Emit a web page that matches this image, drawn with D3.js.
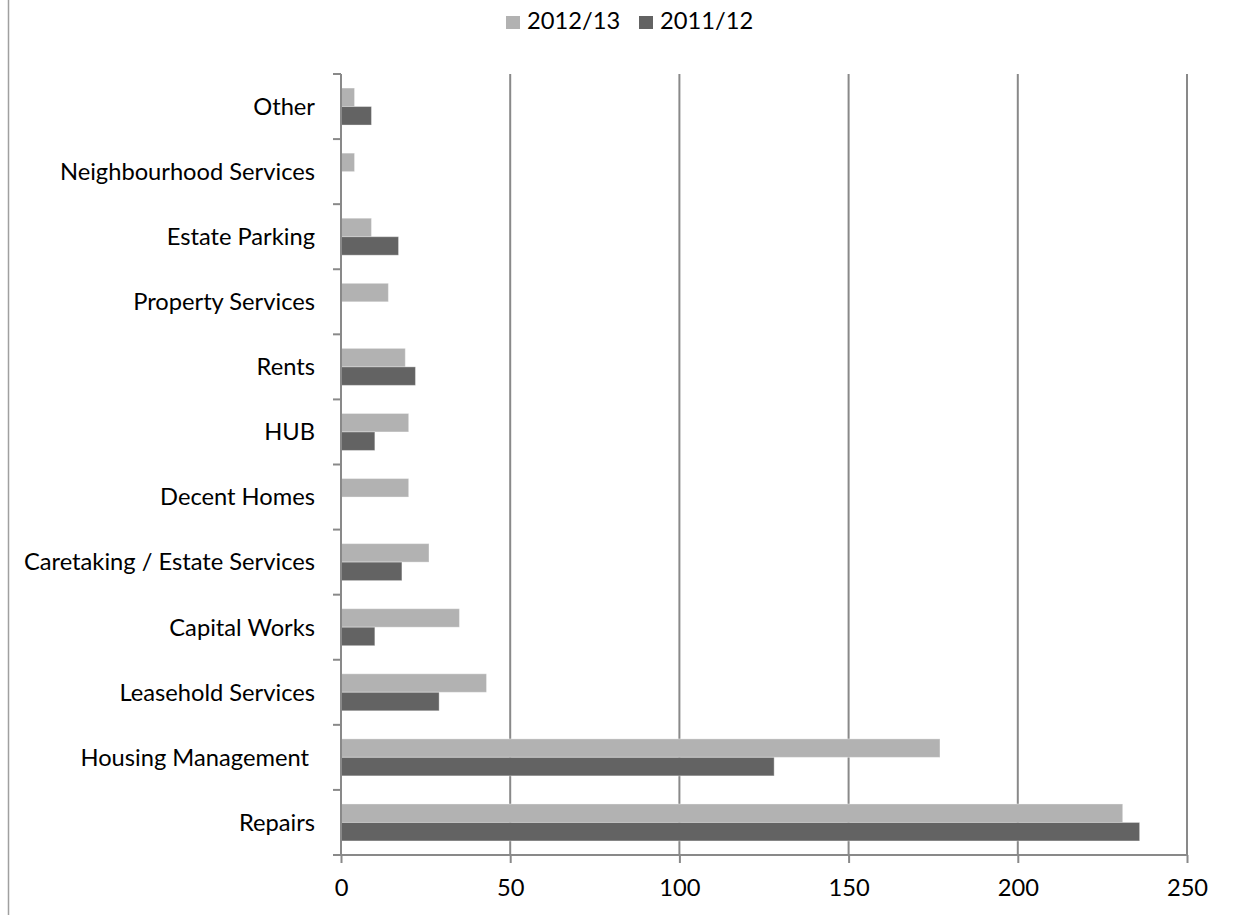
<!DOCTYPE html>
<html>
<head>
<meta charset="utf-8">
<script src="https://cdn.jsdelivr.net/npm/d3@7"></script>
<style>
  html, body { margin: 0; padding: 0; background: #ffffff; }
  svg { display: block; }
  text { font-family: Lato, "Open Sans", sans-serif; fill: #000; }
</style>
</head>
<body>
<svg id="chart" width="1235" height="915"></svg>
<script>
// Categories listed top to bottom as drawn
const categories = [
  "Other",
  "Neighbourhood Services",
  "Estate Parking",
  "Property Services",
  "Rents",
  "HUB",
  "Decent Homes",
  "Caretaking / Estate Services",
  "Capital Works",
  "Leasehold Services",
  "Housing Management ",
  "Repairs"
];
const seriesNames = ["2012/13", "2011/12"];
const values2012 = [4, 4, 9, 14, 19, 20, 20, 26, 35, 43, 177, 231];
const values2011 = [9, 0, 17, 0, 22, 10, 0, 18, 10, 29, 128, 236];
const xTicks = [0, 50, 100, 150, 200, 250];
const colors = ["#b2b2b2", "#636363"];

const svg = d3.select("#chart");

// Size the text so that the longest category label spans the same width as in the layout
const fontFamily = 'Lato, "Open Sans", sans-serif';
const probe = document.createElement("canvas").getContext("2d");
probe.font = "100px " + fontFamily;
const probeW = probe.measureText("Caretaking / Estate Services").width;
const fontSize = Math.round(291 / probeW * 1000) / 10;

const x = d3.scaleLinear().domain([0, 250]).range([341, 1187]);
const y = d3.scaleBand().domain(categories).range([74, 855]).padding(0);
const ySub = d3.scaleBand().domain(seriesNames).range([0, y.bandwidth()])
  .paddingInner(0).paddingOuter(0.76);

const gridColor = "#898989";

// Left chart frame edge
svg.append("line")
  .attr("x1", 8.5).attr("x2", 8.5).attr("y1", 0).attr("y2", 915)
  .attr("stroke", "#a0a0a0").attr("stroke-width", 1.5);

// Vertical gridlines
svg.append("g").selectAll("line")
  .data(xTicks.filter(d => d > 0))
  .join("line")
  .attr("x1", d => x(d)).attr("x2", d => x(d))
  .attr("y1", 74).attr("y2", 855)
  .attr("stroke", gridColor).attr("stroke-width", 2);

// Bars
const rows = categories.map((c, i) => ({ cat: c, vals: [values2012[i], values2011[i]] }));
const groups = svg.append("g").selectAll("g")
  .data(rows)
  .join("g")
  .attr("transform", d => `translate(0,${y(d.cat)})`);
groups.selectAll("rect")
  .data(d => d.vals.map((v, j) => ({ v, s: seriesNames[j], j })).filter(e => e.v > 0))
  .join("rect")
  .attr("x", x(0))
  .attr("y", d => ySub(d.s))
  .attr("width", d => x(d.v) - x(0))
  .attr("height", ySub.bandwidth())
  .attr("fill", d => colors[d.j])
  .attr("stroke", "#ffffff").attr("stroke-opacity", 0.35).attr("stroke-width", 1);

// Bottom axis
const xAxis = d3.axisBottom(x).tickValues(xTicks).tickSize(8).tickPadding(16).tickSizeOuter(0);
const gx = svg.append("g").attr("transform", "translate(0,855)").call(xAxis);
gx.select(".domain").remove();
gx.selectAll(".tick line").attr("stroke", gridColor).attr("stroke-width", 2);
gx.selectAll(".tick text")
  .attr("font-family", fontFamily).attr("font-size", fontSize).attr("fill", "#000");
svg.append("line")
  .attr("x1", 333).attr("x2", 1188).attr("y1", 855).attr("y2", 855)
  .attr("stroke", gridColor).attr("stroke-width", 2);

// Left axis with tick marks between categories
const tickYs = d3.range(categories.length + 1).map(i => 74 + i * y.step());
svg.append("line")
  .attr("x1", 341).attr("x2", 341).attr("y1", 74).attr("y2", 856)
  .attr("stroke", gridColor).attr("stroke-width", 2);
svg.append("g").selectAll("line")
  .data(tickYs)
  .join("line")
  .attr("x1", 333).attr("x2", 341)
  .attr("y1", d => d).attr("y2", d => d)
  .attr("stroke", gridColor).attr("stroke-width", 2);

// Category labels
svg.append("g").selectAll("text")
  .data(categories)
  .join("text")
  .attr("x", 315)
  .attr("y", d => y(d) + y.bandwidth() / 2)
  .attr("dy", "0.35em")
  .attr("text-anchor", "end")
  .style("white-space", "pre")
  .attr("font-size", fontSize)
  .text(d => d);

// Legend
const legendX = [506, 639];
const legend = svg.append("g").selectAll("g")
  .data(seriesNames)
  .join("g")
  .attr("transform", (d, i) => `translate(${legendX[i]},0)`);
legend.append("rect")
  .attr("x", 0).attr("y", 16).attr("width", 14).attr("height", 13)
  .attr("fill", (d, i) => colors[i]);
legend.append("text")
  .attr("x", 21).attr("y", 29)
  .attr("font-size", fontSize)
  .text(d => d);
</script>
</body>
</html>
